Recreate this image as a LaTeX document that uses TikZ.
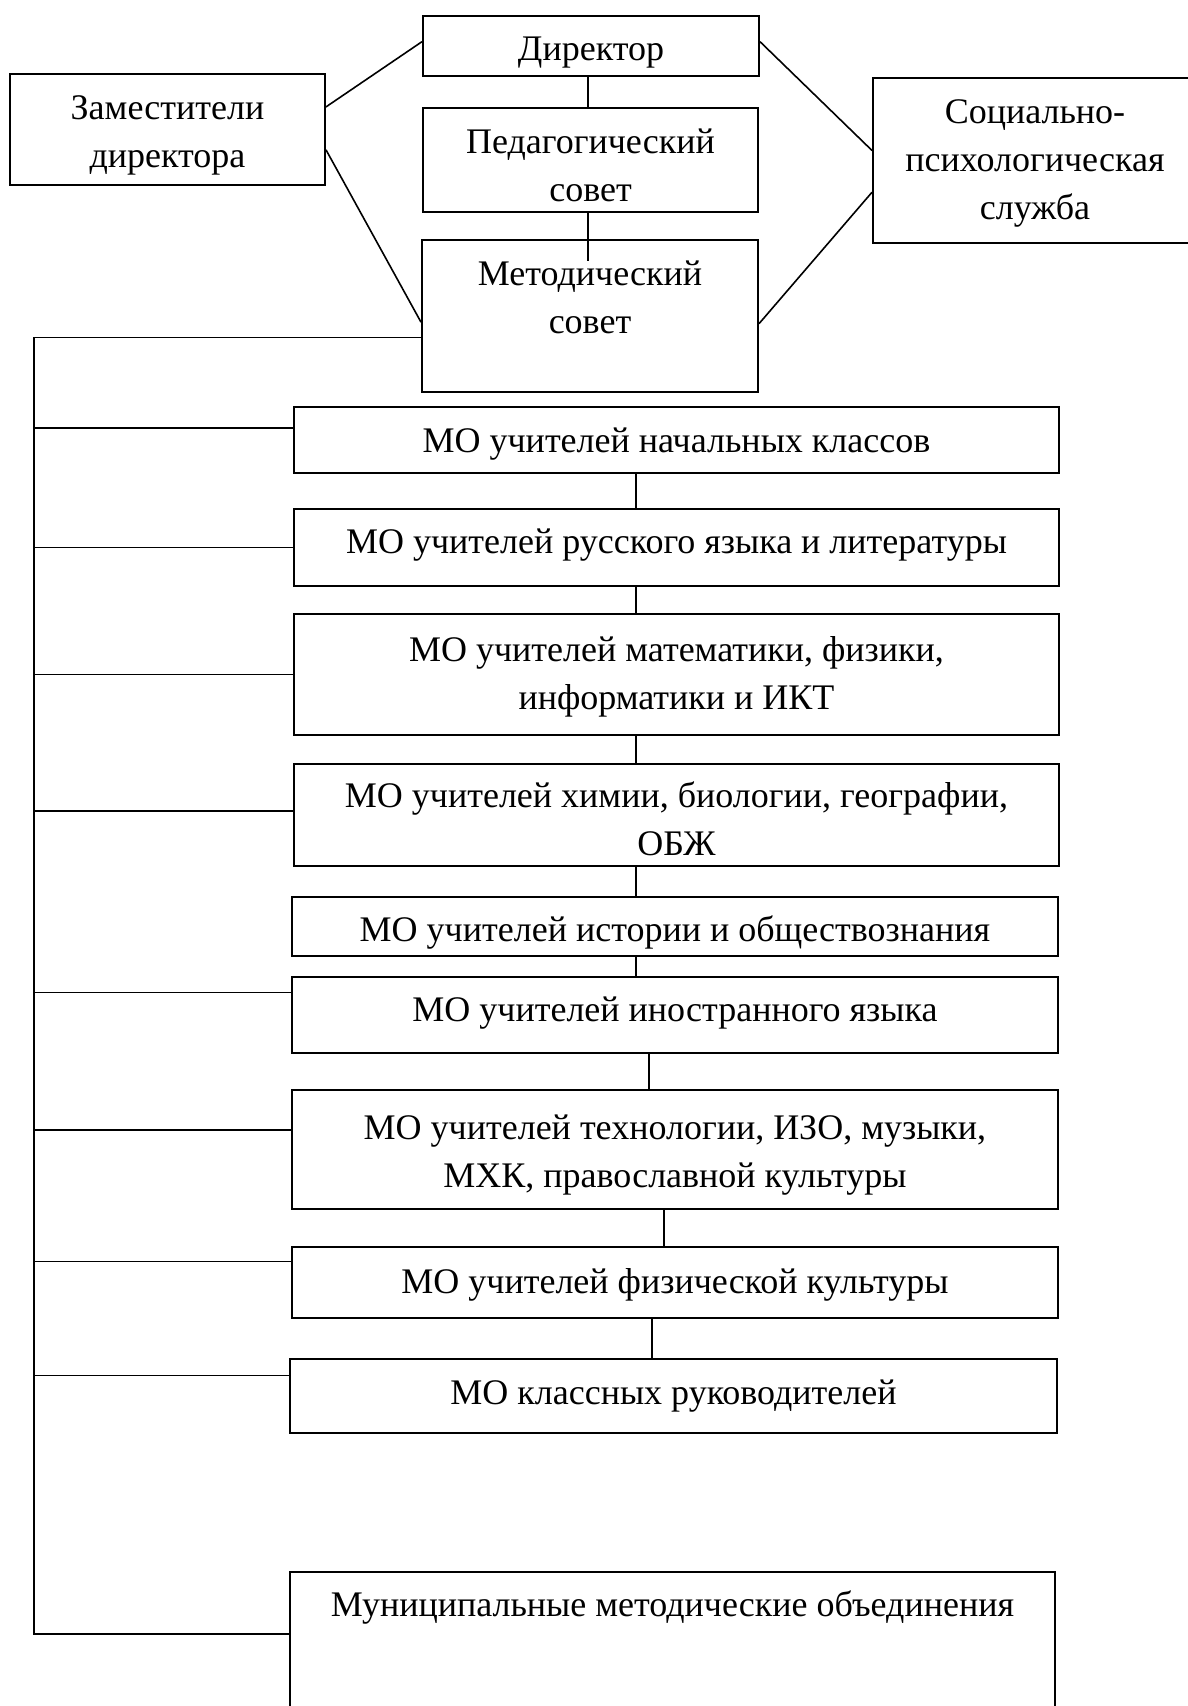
\documentclass[tikz,border=0pt]{standalone}
\usepackage{fontspec}
\setmainfont{Liberation Serif}
\usetikzlibrary{calc}
\tikzset{
  box/.style={draw, line width=2pt, inner sep=0pt},
  txt/.style={inner sep=0pt, align=center, font=\fontsize{36}{48}\selectfont},
  conn/.style={line width=1.6pt},
}
\begin{document}
\begin{tikzpicture}[x=1pt,y=-1pt]
\useasboundingbox (0,0) rectangle (1188,1706);
\clip (0,0) rectangle (1188,1706);
\fill[white] (0,0) rectangle (1188,1706);

% top part boxes
\node[box, minimum width=336, minimum height=60]  (dir) at (591,46) {};
\node[box, minimum width=315, minimum height=111] (zam) at (167.5,129.5) {};
\node[box, minimum width=335, minimum height=104] (ped) at (590.5,160) {};
\node[box, minimum width=336, minimum height=152] (met) at (590,316) {};
\node[box, minimum width=324, minimum height=165] (soc) at (1035,160.5) {};
% top part texts
\node[txt] (dirT) at ($(dir.center)+(0,7)$) {Директор};
\node[txt] (zamT) at ($(zam.center)+(0,6)$) {Заместители\\директора};
\node[txt] (pedT) at ($(ped.center)+(0,5)$) {Педагогический\\совет};
\node[txt] (metT) at ($(met.center)+(0,-19)$) {Методический\\совет};
\node[txt] (socT) at ($(soc.center)+(0,3)$) {Социально-\\психологическая\\служба};

% MO boxes
\node[box, minimum width=765, minimum height=66]  (mo1) at (676.5,440)   {};
\node[box, minimum width=765, minimum height=77]  (mo2) at (676.5,547.5) {};
\node[box, minimum width=765, minimum height=121] (mo3) at (676.5,674.5) {};
\node[box, minimum width=765, minimum height=102] (mo4) at (676.5,815)   {};
\node[box, minimum width=766, minimum height=59]  (mo5) at (675,926.5)   {};
\node[box, minimum width=766, minimum height=76]  (mo6) at (675,1015)    {};
\node[box, minimum width=766, minimum height=119] (mo7) at (675,1149.5)  {};
\node[box, minimum width=766, minimum height=71]  (mo8) at (675,1282.5)  {};
\node[box, minimum width=767, minimum height=74]  (mo9) at (673.5,1396)  {};
\node[box, minimum width=765, minimum height=150] (mun) at (672.5,1647)  {};
% MO texts
\node[txt] (mo1T) at ($(mo1.center)+(0,4)$)  {МО учителей начальных классов};
\node[txt] (mo2T) at ($(mo2.center)+(0,-2)$) {МО учителей русского языка и литературы};
\node[txt] (mo3T) at ($(mo3.center)+(0,2)$)  {МО учителей математики, физики,\\информатики и ИКТ};
\node[txt] (mo4T) at ($(mo4.center)+(0,4)$)  {МО учителей химии, биологии, географии,\\ОБЖ};
\node[txt] (mo5T) at ($(mo5.center)+(0,6)$)  {МО учителей истории и обществознания};
\node[txt] (mo6T) at ($(mo6.center)+(0,-2)$) {МО учителей иностранного языка};
\node[txt] (mo7T) at ($(mo7.center)+(0,6)$)  {МО учителей технологии, ИЗО, музыки,\\МХК, православной культуры};
\node[txt] (mo8T) at ($(mo8.center)+(0,2)$)  {МО учителей физической культуры};
\node[txt] (mo9T) at ($(mo9.center)+(0,0)$)  {МО классных руководителей};
\node[txt] (munT) at (672.5,1607) {Муниципальные методические объединения};

% top connectors
\draw[conn] ($(zam.north east)!0.3!(zam.south east)$) -- ($(dir.north west)!0.43!(dir.south west)$);
\draw[conn] ($(zam.north east)!0.68!(zam.south east)$) -- ($(met.north west)!0.54!(met.south west)$);
\draw[conn] ($(dir.north east)!0.43!(dir.south east)$) -- ($(soc.north west)!0.44!(soc.south west)$);
\draw[conn] ($(met.north east)!0.55!(met.south east)$) -- ($(soc.north west)!0.69!(soc.south west)$);
\coordinate (kt) at (588,0);
\draw[conn] (kt |- dir.south) -- (kt |- ped.north);
\coordinate (ktm) at ($(met.north)+(0,22)$);
\draw[conn] (kt |- ped.south) -- (kt |- ktm);

% MO chain
\coordinate (k1) at (636,0);
\coordinate (k2) at (649,0);
\coordinate (k3) at (664,0);
\coordinate (k4) at (652,0);
\draw[conn] (k1 |- mo1.south) -- (k1 |- mo2.north);
\draw[conn] (k1 |- mo2.south) -- (k1 |- mo3.north);
\draw[conn] (k1 |- mo3.south) -- (k1 |- mo4.north);
\draw[conn] (k1 |- mo4.south) -- (k1 |- mo5.north);
\draw[conn] (k1 |- mo5.south) -- (k1 |- mo6.north);
\draw[conn] (k2 |- mo6.south) -- (k2 |- mo7.north);
\draw[conn] (k3 |- mo7.south) -- (k3 |- mo8.north);
\draw[conn] (k4 |- mo8.south) -- (k4 |- mo9.north);

% spine
\coordinate (sp) at (34,0);
\coordinate (pm) at ($(met.north west)!0.64!(met.south west)$);
\coordinate (pmun) at ($(mun.north west)+(0,63)$);
\draw[conn] (pm) -- (sp |- pm) -- (sp |- pmun) -- (pmun);
\foreach \n/\r in {mo1/0.32, mo2/0.5, mo3/0.5, mo4/0.46, mo6/0.21, mo7/0.34, mo8/0.21, mo9/0.23} {
  \coordinate (q) at ($(\n.north west)!\r!(\n.south west)$);
  \draw[conn] (sp |- q) -- (q);
}
\end{tikzpicture}
\end{document}
